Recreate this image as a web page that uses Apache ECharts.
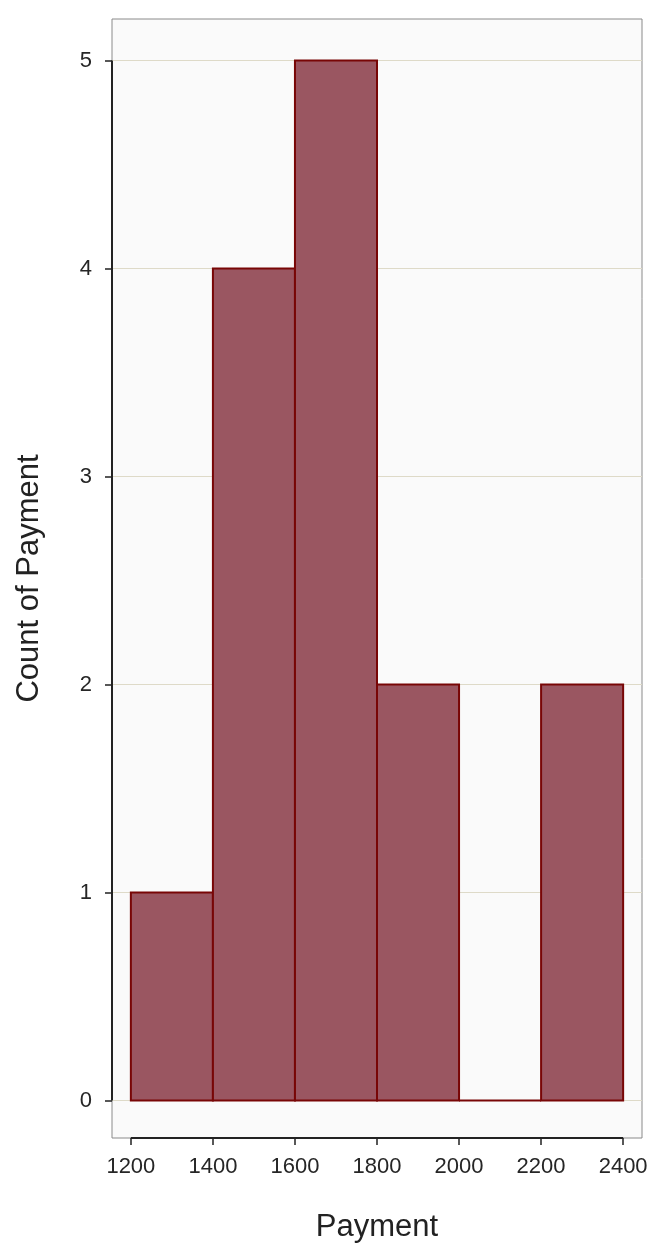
<!DOCTYPE html>
<html>
<head>
<meta charset="utf-8">
<script src="https://cdn.jsdelivr.net/npm/echarts@6/dist/echarts.min.js"></script>
<style>
  html, body { margin: 0; padding: 0; background: #fff; }
  #chart { width: 672px; height: 1248px; }
</style>
</head>
<body>
<div id="chart"></div>
<script>
// histogram bins: [start, end, count]
var binStarts = [1200, 1400, 1600, 1800, 2000, 2200];
var binEnds = [1400, 1600, 1800, 2000, 2200, 2400];
var binCounts = [1, 4, 5, 2, 0, 2];
var xTicks = [1200, 1400, 1600, 1800, 2000, 2200, 2400];
var yTicks = [0, 1, 2, 3, 4, 5];

var xMin = 1154, xMax = 2446;
var yMin = -0.18, yMax = 5.2;

var bins = binStarts.map(function (s, i) { return [s, binEnds[i], binCounts[i]]; });

var chartDom = document.getElementById('chart');
var myChart = echarts.init(chartDom);

var option = {
    animation: false,
    textStyle: { fontFamily: 'Liberation Sans, Arial, sans-serif' },
    grid: {
        left: 112, top: 19, right: 30, bottom: 110,
        containLabel: false,
        outerBoundsMode: 'none',
        show: true,
        backgroundColor: '#fafafa',
        borderColor: '#8a8a8a',
        borderWidth: 1
    },
    xAxis: {
        type: 'value',
        min: xMin,
        max: xMax,
        name: 'Payment',
        nameLocation: 'middle',
        nameGap: 74,
        nameTextStyle: { fontSize: 31, color: '#222' },
        axisLine: { show: false, onZero: false },
        axisTick: { show: true, length: 7, customValues: xTicks, lineStyle: { color: '#222', width: 1.5 } },
        axisLabel: { customValues: xTicks, fontSize: 22, color: '#262626', margin: 18, formatter: function (v) { return String(v); } },
        splitLine: { show: false }
    },
    yAxis: {
        type: 'value',
        min: yMin,
        max: yMax,
        name: 'Count of Payment',
        nameLocation: 'middle',
        nameGap: 67,
        nameTextStyle: { fontSize: 31, color: '#222' },
        axisLine: { show: false, onZero: false },
        axisTick: { show: true, length: 7, customValues: yTicks, lineStyle: { color: '#222', width: 1.5 } },
        axisLabel: { customValues: yTicks, fontSize: 22, color: '#262626', margin: 20 },
        splitLine: { show: false }
    },
    series: [
        {
            name: 'grid',
            type: 'line',
            data: [],
            z: 0,
            markLine: {
                silent: true,
                z: 1,
                symbol: 'none',
                label: { show: false },
                lineStyle: { color: '#dedac8', type: 'solid', width: 1 },
                data: yTicks.map(function (v) { return { yAxis: v }; })
            }
        },
        {
            name: 'Payment',
            type: 'custom',
            data: bins,
            z: 3,
            encode: { x: [0, 1], y: 2 },
            renderItem: function (params, api) {
                var p0 = api.coord([api.value(0), api.value(2)]);
                var p1 = api.coord([api.value(1), 0]);
                return {
                    type: 'rect',
                    shape: { x: p0[0], y: p0[1], width: p1[0] - p0[0], height: p1[1] - p0[1] },
                    style: { fill: '#9a5661', stroke: '#780606', lineWidth: 2 }
                };
            }
        },
        {
            name: 'yspine',
            type: 'line',
            data: [[xMin, yTicks[0]], [xMin, yTicks[yTicks.length - 1]]],
            symbol: 'none',
            lineStyle: { color: '#222', width: 2 },
            z: 5
        },
        {
            name: 'xspine',
            type: 'line',
            data: [[xTicks[0], yMin], [xTicks[xTicks.length - 1], yMin]],
            symbol: 'none',
            lineStyle: { color: '#222', width: 2 },
            z: 5
        }
    ]
};

myChart.setOption(option);
</script>
</body>
</html>
